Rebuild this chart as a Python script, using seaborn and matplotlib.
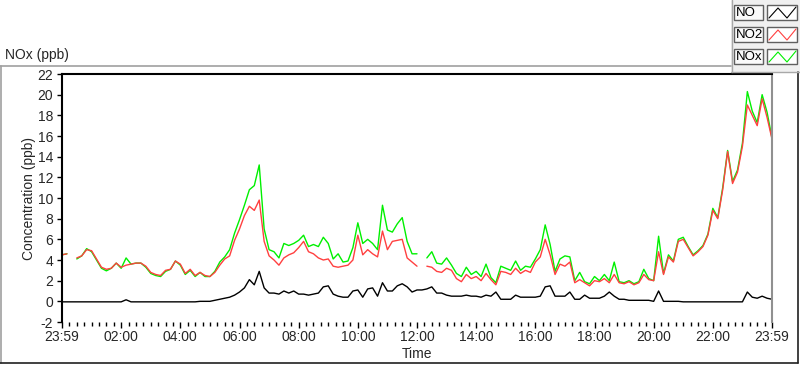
import numpy as np
import pandas as pd
import matplotlib
matplotlib.use("Agg")
import matplotlib.pyplot as plt
import seaborn as sns
from matplotlib.patches import Rectangle
from matplotlib.lines import Line2D

nan = np.nan

# ---------------- data (10-minute samples, hours since 23:59) ----------------
time_hours = [k / 6 for k in range(145)]

tick_hours = [0, 2, 4, 6, 8, 10, 12, 14, 16, 18, 20, 22, 24]
tick_labels = ["23:59", "02:00", "04:00", "06:00", "08:00", "10:00", "12:00",
               "14:00", "16:00", "18:00", "20:00", "22:00", "23:59"]
y_ticks = [-2, 0, 2, 4, 6, 8, 10, 12, 14, 16, 18, 20, 22]

no_ppb = [
    -0.05, -0.05, -0.05, -0.05, -0.05, -0.05, -0.05, -0.05, -0.05, -0.05,
    -0.05, -0.05, -0.05, 0.15, -0.05, -0.05, -0.05, -0.05, -0.05, -0.05,
    -0.05, -0.05, -0.05, -0.05, -0.05, -0.05, -0.05, -0.05, 0.0, 0.0,
    0.0, 0.1, 0.2, 0.3, 0.4, 0.6, 0.9, 1.3, 2.1, 1.6,
    2.9, 1.3, 0.8, 0.8, 0.7, 1.0, 0.8, 1.0, 0.7, 0.7,
    0.6, 0.7, 0.8, 1.4, 1.5, 0.7, 0.5, 0.4, 0.4, 1.0,
    1.1, 0.4, 1.2, 1.3, 0.5, 1.8, 1.0, 1.0, 1.5, 1.7,
    1.4, 0.9, 1.1, 1.1, 1.2, 1.4, 0.8, 0.8, 0.6, 0.5,
    0.5, 0.5, 0.6, 0.5, 0.5, 0.4, 0.6, 0.5, 0.9, 0.2,
    0.2, 0.2, 0.6, 0.4, 0.4, 0.4, 0.4, 0.5, 1.4, 1.5,
    0.5, 0.5, 0.5, 0.9, 0.2, 0.2, 0.6, 0.3, 0.3, 0.3,
    0.5, 0.9, 0.5, 0.2, 0.2, 0.1, 0.1, 0.1, 0.1, 0.1,
    0.0, 1.0, 0.0, 0.0, 0.0, 0.0, -0.05, -0.05, -0.05, -0.05,
    -0.05, -0.05, -0.05, -0.05, -0.05, -0.05, -0.05, -0.05, -0.05, 0.9,
    0.4, 0.3, 0.5, 0.3, 0.2,
]

no2_ppb = [
    4.5, 4.6, nan, 4.2, 4.4, 5.0, 4.9, 4.1, 3.3, 3.1,
    3.2, 3.7, 3.3, 3.5, 3.6, 3.7, 3.7, 3.4, 2.8, 2.6,
    2.5, 3.0, 3.1, 3.9, 3.6, 2.7, 3.1, 2.5, 2.8, 2.5,
    2.4, 2.8, 3.5, 4.1, 4.4, 5.9, 7.0, 8.3, 9.2, 8.8,
    9.8, 5.8, 4.4, 4.0, 3.5, 4.2, 4.5, 4.7, 5.2, 5.8,
    4.8, 4.6, 4.2, 4.0, 4.1, 3.4, 3.3, 3.4, 3.5, 4.0,
    6.4, 4.5, 5.0, 4.6, 4.3, 6.8, 5.0, 5.8, 5.9, 6.0,
    4.2, 3.8, 3.4, nan, 3.4, 3.3, 2.9, 2.8, 3.2, 3.0,
    2.2, 1.9, 2.6, 2.2, 2.4, 2.0, 2.7, 2.1, 1.6, 2.9,
    2.8, 2.6, 3.2, 2.7, 3.0, 2.8, 3.8, 4.3, 6.0, 4.5,
    2.6, 3.6, 3.4, 3.8, 1.8, 2.1, 1.8, 1.5, 2.0, 1.9,
    2.2, 1.8, 2.6, 1.8, 1.7, 1.9, 1.6, 1.8, 2.6, 2.1,
    2.0, 4.8, 2.6, 4.3, 3.8, 5.8, 6.0, 5.2, 4.4, 4.8,
    5.3, 6.4, 8.8, 8.0, 10.8, 14.5, 11.4, 12.5, 15.0, 19.0,
    18.0, 17.0, 19.6, 17.8, 15.7,
]

nox_ppb = [
    4.5, 4.6, nan, 4.1, 4.4, 5.1, 4.8, 4.0, 3.2, 2.95,
    3.2, 3.7, 3.2, 4.2, 3.6, 3.7, 3.7, 3.3, 2.7, 2.5,
    2.4, 2.9, 3.1, 3.9, 3.5, 2.6, 3.0, 2.4, 2.8, 2.4,
    2.4, 2.9, 3.8, 4.3, 5.0, 6.6, 7.9, 9.3, 10.8, 11.2,
    13.2, 7.0, 5.0, 4.8, 4.2, 5.6, 5.4, 5.6, 5.9, 6.4,
    5.3, 5.5, 5.3, 6.2, 5.6, 4.1, 4.6, 3.8, 3.9, 5.2,
    7.6, 5.6, 6.0, 5.6, 5.0, 9.3, 6.9, 6.7, 7.5, 8.1,
    5.8, 4.6, 4.6, nan, 4.2, 4.8, 3.7, 3.6, 4.2, 3.5,
    2.7, 2.4, 3.3, 2.6, 2.9, 2.4, 3.6, 2.3, 1.8, 3.4,
    3.2, 3.0, 3.9, 3.0, 3.4, 3.3, 4.1, 5.0, 7.4, 5.5,
    2.9, 4.1, 4.4, 4.3, 2.0, 2.8, 1.9, 1.7, 2.4, 2.0,
    2.6, 2.0, 3.8, 1.9, 1.8, 2.0, 1.7, 1.9, 3.1, 2.2,
    2.0, 6.3, 2.7, 4.5, 3.9, 6.0, 6.2, 5.3, 4.5, 4.9,
    5.4, 6.5, 9.0, 8.1, 11.0, 14.6, 11.6, 12.7, 15.3, 20.3,
    18.4, 17.3, 20.0, 18.3, 15.8,
]

series_names = ["NO", "NO2", "NOx"]
series_colors = {"NO": "#000000", "NO2": "#ff4040", "NOx": "#00f000"}

# ---------------- build long table (gaps -> separate units) ----------------
frames = []
for name, vals in [("NOx", nox_ppb), ("NO2", no2_ppb), ("NO", no_ppb)]:
    v = pd.Series(vals, dtype=float)
    seg = v.isna().cumsum()
    d = pd.DataFrame({"t": time_hours, "v": v, "series": name,
                      "unit": name + "_" + seg.astype(str)})
    frames.append(d.dropna())
df = pd.concat(frames, ignore_index=True)

# ---------------- figure ----------------
sns.set_style("white")
plt.rcParams["font.family"] = ["Liberation Sans", "DejaVu Sans"]
plt.rcParams["font.size"] = 10

W, H = 800, 365
fig = plt.figure(figsize=(W / 100, H / 100), dpi=100)
fig.patch.set_facecolor("white")

def fx(x):
    return x / W

def fy(y):
    return 1 - y / H

ax = fig.add_axes([fx(62), fy(322), (772 - 62) / W, (322 - 74) / H])
sns.lineplot(data=df, x="t", y="v", hue="series", units="unit",
             estimator=None, hue_order=["NOx", "NO2", "NO"],
             palette=series_colors, legend=False, ax=ax,
             linewidth=1.0, sort=True)

ax.set_xlim(0, 24)
ax.set_ylim(-2, 22)
ax.set_xticks(tick_hours)
ax.set_xticklabels(tick_labels)
ax.set_xticks(np.arange(0, 24.01, 0.25), minor=True)
ax.set_yticks(y_ticks)
ax.set_yticklabels([str(v) for v in y_ticks])
ax.tick_params(axis="x", which="major", direction="out", length=4.5,
               width=1, color="black", pad=1.5, labelsize=10)
ax.tick_params(axis="x", which="minor", direction="out", length=2.6,
               width=1, color="black")
ax.tick_params(axis="y", which="major", direction="out", length=3.8,
               width=1, color="black", pad=2.5, labelsize=10)
ax.tick_params(bottom=True, left=True, which="both")
ax.tick_params(axis="y", which="minor", left=False)

for s in ["top", "left"]:
    ax.spines[s].set_color("black")
    ax.spines[s].set_linewidth(1.5)
ax.spines["right"].set_color("#909090")
ax.spines["right"].set_linewidth(1.5)
ax.spines["bottom"].set_visible(False)

ax.set_xlabel("Time", fontsize=10)
ax.set_ylabel("Concentration (ppb)", fontsize=10)
ax.xaxis.set_label_coords(0.5, (322 - 347) / 248)
ax.yaxis.set_label_coords((36 - 62) / 710, 0.5)

# ---------------- outer frame ----------------
def fline(xs, ys, color, lw):
    fig.add_artist(Line2D([fx(x) for x in xs], [fy(y) for y in ys],
                          transform=fig.transFigure, color=color, lw=lw))

fline([0, 731], [65.5, 65.5], "#a0a0a0", 1.2)
fline([1, 1], [65.5, 363], "#a0a0a0", 1.2)
fline([0, 798], [362.5, 362.5], "#202020", 1.2)
fline([797.5, 797.5], [72, 363], "#202020", 1.2)

fig.text(fx(5), fy(55), "NOx (ppb)", ha="left", va="center", fontsize=10)

# ---------------- legend panel ----------------
fig.add_artist(Rectangle((fx(731), fy(72)), (W - 731) / W, 72 / H,
                         transform=fig.transFigure, facecolor="#f0f0f0",
                         edgecolor="none"))
fline([731.5, 731.5], [0, 72], "#a8a8a8", 1.0)
fline([731, 800], [71.5, 71.5], "#a8a8a8", 1.0)

row_tops = [5, 27, 49]
zig_x = [769, 778, 787, 796]
zig_y = [12, 2, 12, 1]
for name, top in zip(series_names, row_tops):
    fig.add_artist(Rectangle((fx(734), fy(top + 15)), 29 / W, 15 / H,
                             transform=fig.transFigure, facecolor="#fafafa",
                             edgecolor="#606060", lw=1.0))
    fig.text(fx(735.5), fy(top + 7.5), name, ha="left", va="center",
             fontsize=9.5, color="black")
    fig.add_artist(Rectangle((fx(767), fy(top + 15)), 30 / W, 15 / H,
                             transform=fig.transFigure, facecolor="white",
                             edgecolor="#606060", lw=1.0))
    fline(zig_x, [top + 1 + zy for zy in zig_y], series_colors[name], 0.8)

fig.savefig("out.png", dpi=100, facecolor="white")
